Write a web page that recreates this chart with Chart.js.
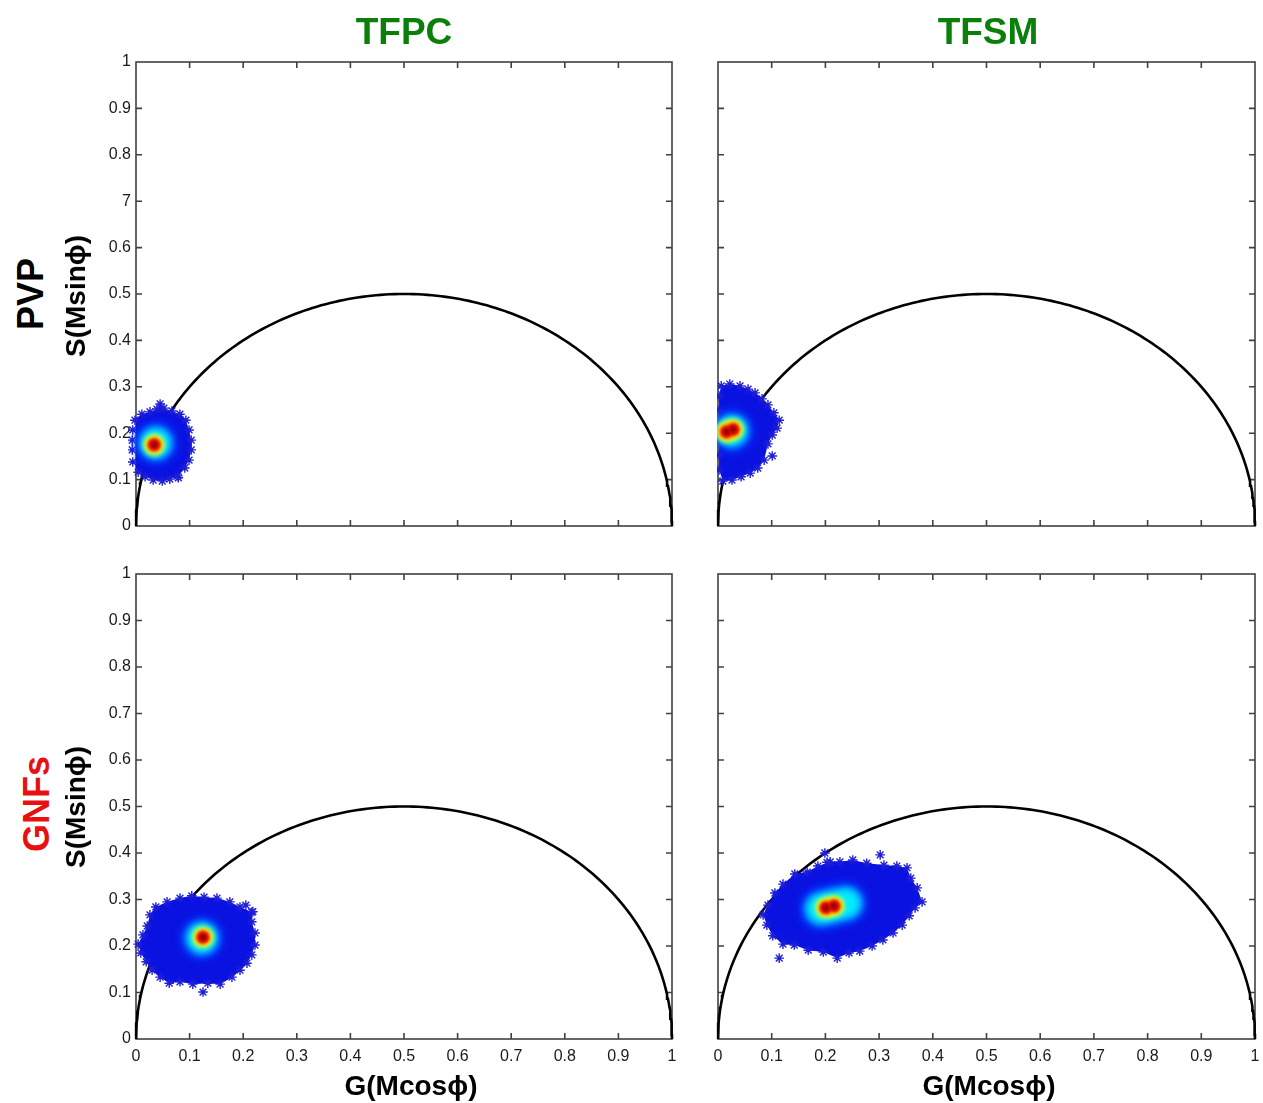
<!DOCTYPE html>
<html>
<head>
<meta charset="utf-8">
<script src="https://cdn.jsdelivr.net/npm/chart.js@4.4.0/dist/chart.umd.min.js"></script>
<style>
  body { margin: 0; background: #fff; }
  #page { position: relative; width: 1263px; height: 1103px; overflow: hidden; font-family: "Liberation Sans", Arial, sans-serif; }
  canvas { position: absolute; }
  .lbl { position: absolute; font-weight: bold; line-height: 1; white-space: nowrap; transform: translate(-50%, -50%); }
  .rot { transform: translate(-50%, -50%) rotate(-90deg); }
</style>
</head>
<body>
<div id="page">
  <canvas id="tl"></canvas>
  <canvas id="tr"></canvas>
  <canvas id="bl"></canvas>
  <canvas id="br"></canvas>

  <div class="lbl" style="left:404px;top:31px;font-size:37px;color:#0a800a">TFPC</div>
  <div class="lbl" style="left:988px;top:31px;font-size:37px;color:#0a800a">TFSM</div>
  <div class="lbl rot" style="left:31px;top:294px;font-size:36px;color:#000">PVP</div>
  <div class="lbl rot" style="left:76px;top:296px;font-size:28px;color:#000">S(Msinϕ)</div>
  <div class="lbl rot" style="left:37px;top:804px;font-size:36px;color:#e81010">GNFs</div>
  <div class="lbl rot" style="left:76px;top:807px;font-size:28px;color:#000">S(Msinϕ)</div>
  <div class="lbl" style="left:411px;top:1086px;font-size:28px;color:#000">G(Mcosϕ)</div>
  <div class="lbl" style="left:989px;top:1086px;font-size:28px;color:#000">G(Mcosϕ)</div>
</div>

<script>
// Tick labels
const xTickLabels = ['0', '0.1', '0.2', '0.3', '0.4', '0.5', '0.6', '0.7', '0.8', '0.9', '1'];
const yTickLabels = ['0', '0.1', '0.2', '0.3', '0.4', '0.5', '0.6', '0.7', '0.8', '0.9', '1'];
const yTickLabelsTL = ['0', '0.1', '0.2', '0.3', '0.4', '0.5', '0.6', '7', '0.8', '0.9', '1']; // printed like this

// Phasor points, [G, S]: outer stars of each cloud (in order round it),
// lone stars outside it, the medium density zone and the density peak
// PVP / TFPC
const tlEdge = [
    [-0.002, 0.228], [0.011, 0.241], [0.026, 0.246], [0.039, 0.252], [0.045, 0.263], [0.052, 0.254],
    [0.067, 0.248], [0.082, 0.241], [0.093, 0.228], [0.099, 0.207], [0.103, 0.185], [0.103, 0.164],
    [0.099, 0.142], [0.091, 0.125], [0.078, 0.108], [0.063, 0.101], [0.049, 0.097], [0.032, 0.099],
    [0.017, 0.106], [0.004, 0.116], [-0.006, 0.138], [-0.007, 0.164], [-0.007, 0.185], [-0.006, 0.207]
];
const tlOut = [[0.079, 0.104]];
const tlMid = [[0.037, 0.179]];
const tlPeak = [[0.034, 0.175]];

// PVP / TFSM
const trEdge = [
    [0.006, 0.302], [0.022, 0.306], [0.041, 0.302], [0.056, 0.295], [0.069, 0.287], [0.082, 0.274],
    [0.093, 0.261], [0.104, 0.244], [0.114, 0.228], [0.110, 0.211], [0.101, 0.196], [0.093, 0.177],
    [0.086, 0.142], [0.074, 0.125], [0.060, 0.114], [0.043, 0.106], [0.026, 0.099],
    [0.009, 0.097], [0.002, 0.121], [0.002, 0.153], [0.002, 0.185], [0.002, 0.218], [0.002, 0.250],
    [0.002, 0.280]
];
const trOut = [[0.101, 0.151]];
const trMid = [[0.026, 0.205]];
const trPeak = [[0.016, 0.203], [0.028, 0.208]];

// GNFs / TFPC
const blEdge = [
    [0.026, 0.267], [0.037, 0.284], [0.058, 0.295], [0.082, 0.303], [0.104, 0.308], [0.127, 0.305],
    [0.151, 0.303], [0.175, 0.295], [0.194, 0.284], [0.216, 0.273], [0.216, 0.252],
    [0.222, 0.228], [0.222, 0.202], [0.216, 0.181], [0.207, 0.163], [0.194, 0.148], [0.179, 0.133],
    [0.157, 0.118], [0.134, 0.120], [0.106, 0.118], [0.082, 0.123], [0.062, 0.120],
    [0.045, 0.133], [0.030, 0.148], [0.019, 0.166], [0.009, 0.185], [0.004, 0.204], [0.013, 0.224],
    [0.021, 0.243]
];
const blOut = [[0.125, 0.101], [0.205, 0.288], [0.218, 0.274]];
const blMid = [[0.123, 0.217]];
const blPeak = [[0.125, 0.219]];

// GNFs / TFSM
const brEdge = [
    [0.084, 0.267], [0.093, 0.288], [0.106, 0.314], [0.121, 0.333], [0.143, 0.355], [0.166, 0.359],
    [0.186, 0.372], [0.209, 0.381], [0.227, 0.381], [0.251, 0.385], [0.277, 0.378],
    [0.309, 0.374], [0.333, 0.372], [0.352, 0.368], [0.359, 0.346], [0.371, 0.325],
    [0.380, 0.295], [0.367, 0.282], [0.356, 0.265], [0.343, 0.245], [0.326, 0.228], [0.307, 0.213],
    [0.287, 0.200], [0.264, 0.189], [0.244, 0.185], [0.222, 0.174], [0.196, 0.187], [0.168, 0.191],
    [0.142, 0.202], [0.121, 0.204], [0.102, 0.222], [0.091, 0.245]
];
const brOut = [[0.199, 0.400], [0.203, 0.380], [0.302, 0.396], [0.114, 0.174]];
const brMid = [[0.192, 0.280], [0.214, 0.286], [0.238, 0.292]];
const brPeak = [[0.201, 0.282], [0.216, 0.286]];

// universal semicircle: centre (0.5, 0), radius 0.5
const semicircle = [];
for (let i = 0; i <= 180; i++) {
    const t = Math.PI * i / 180;
    semicircle.push({ x: 0.5 + 0.5 * Math.cos(t), y: 0.5 * Math.sin(t) });
}

// density colour layers (jet-like)
const midLayers = [
    { c: 'rgb(0,60,255)', r: 21, blur: 4 },
    { c: 'rgb(0,150,255)', r: 17, blur: 3 },
    { c: 'rgb(0,235,255)', r: 13.5, blur: 3 }
];
const peakLayers = [
    { c: 'rgb(140,255,120)', r: 11, blur: 2.5 },
    { c: 'rgb(255,235,0)', r: 9, blur: 2 },
    { c: 'rgb(255,120,0)', r: 7.5, blur: 1.5 },
    { c: 'rgb(225,15,0)', r: 6, blur: 1.2 },
    { c: 'rgb(150,0,0)', r: 3, blur: 1 }
];

const FONT = '"Liberation Sans", Arial, sans-serif';
const Y_W = 50, X_H = 40, PAD = 12;

// box with inward ticks on every side, drawn under the data
const framePlugin = {
    id: 'frame',
    beforeDatasetsDraw(chart) {
        const { ctx, chartArea: a, scales: { x, y } } = chart;
        ctx.save();
        ctx.strokeStyle = '#404040';
        ctx.lineWidth = 1.6;
        ctx.strokeRect(a.left, a.top, a.width, a.height);
        ctx.beginPath();
        x.ticks.forEach((t, i) => {
            if (i === 0 || i === x.ticks.length - 1) return;
            const px = x.getPixelForValue(t.value);
            ctx.moveTo(px, a.bottom); ctx.lineTo(px, a.bottom - 6);
            ctx.moveTo(px, a.top); ctx.lineTo(px, a.top + 6);
        });
        y.ticks.forEach((t, i) => {
            if (i === 0 || i === y.ticks.length - 1) return;
            const py = y.getPixelForValue(t.value);
            ctx.moveTo(a.left, py); ctx.lineTo(a.left + 6, py);
            ctx.moveTo(a.right, py); ctx.lineTo(a.right - 6, py);
        });
        ctx.stroke();
        ctx.restore();
    }
};

// soft edges for the density layers
const blurPlugin = {
    id: 'blur',
    beforeDatasetDraw(chart, args) {
        const b = chart.data.datasets[args.index].blur;
        chart.ctx.save();
        if (b) chart.ctx.filter = 'blur(' + b + 'px)';
    },
    afterDatasetDraw(chart) {
        chart.ctx.restore();
    }
};

function pts(arr) {
    return arr.map(p => ({ x: p[0], y: p[1] }));
}

function makePanel(id, box, cl, o) {
    const cv = document.getElementById(id);
    cv.width = Y_W + (box.r - box.l) + 2 * PAD;
    cv.height = 2 * PAD + (box.b - box.t) + X_H;

    const clip = { left: o.clipLeft, top: 30, right: 30, bottom: 30 };
    const ds = [];
    ds.push({ data: semicircle, showLine: true, borderColor: '#000', borderWidth: 2.6, pointRadius: 0, clip: 4 });
    // filled cloud inside the outer stars
    ds.push({ data: pts(cl.edge), showLine: true, fill: 'shape', borderWidth: 0, borderColor: 'rgba(0,0,0,0)',
              backgroundColor: 'rgb(10,18,225)', pointRadius: 0, clip: clip });
    ds.push({ data: pts(cl.edge.concat(cl.out)), pointStyle: 'star', pointRadius: 4.8,
              pointBorderColor: 'rgb(30,30,215)', pointBorderWidth: 1.4, clip: clip });
    midLayers.forEach(l => ds.push({ data: pts(cl.mid), pointRadius: l.r, pointBackgroundColor: l.c, pointBorderWidth: 0, blur: l.blur, clip: clip }));
    peakLayers.forEach(l => ds.push({ data: pts(cl.peak), pointRadius: l.r, pointBackgroundColor: l.c, pointBorderWidth: 0, blur: l.blur, clip: clip }));
    ds.forEach((d, i) => { d.order = ds.length - i; });

    const chart = new Chart(cv, {
        type: 'scatter',
        data: { datasets: ds },
        options: {
            responsive: false,
            maintainAspectRatio: false,
            animation: false,
            events: [],
            layout: { padding: { left: 0, top: PAD, right: PAD, bottom: 0 } },
            plugins: { legend: { display: false }, tooltip: { enabled: false }, colors: { enabled: false } },
            scales: {
                x: {
                    type: 'linear', min: 0, max: 1,
                    grid: { display: false, drawTicks: false },
                    border: { display: false },
                    ticks: {
                        display: o.showX, stepSize: 0.1, autoSkip: false, maxRotation: 0, padding: 8,
                        color: '#1a1a1a', font: { family: FONT, size: 16 },
                        callback: (v, i) => xTickLabels[i]
                    },
                    afterFit: s => { s.height = X_H; }
                },
                y: {
                    type: 'linear', min: 0, max: 1,
                    grid: { display: false, drawTicks: false },
                    border: { display: false },
                    ticks: {
                        display: o.showY, stepSize: 0.1, autoSkip: false, padding: 5,
                        color: '#1a1a1a', font: { family: FONT, size: 16 },
                        callback: (v, i) => o.yLabels[i]
                    },
                    afterFit: s => { s.width = Y_W; }
                }
            }
        },
        plugins: [framePlugin, blurPlugin]
    });

    // fit the plot area to the wanted box, then place the canvas
    let a = chart.chartArea;
    const w = cv.width + (box.r - box.l) - (a.right - a.left);
    const h = cv.height + (box.b - box.t) - (a.bottom - a.top);
    chart.resize(w, h);
    a = chart.chartArea;
    cv.style.left = (box.l - a.left) + 'px';
    cv.style.top = (box.t - a.top) + 'px';
}

makePanel('tl', { l: 136, t: 62, r: 672, b: 526 },
    { edge: tlEdge, out: tlOut, mid: tlMid, peak: tlPeak },
    { showX: false, showY: true, yLabels: yTickLabelsTL, clipLeft: 8 });
makePanel('tr', { l: 718, t: 62, r: 1255, b: 526 },
    { edge: trEdge, out: trOut, mid: trMid, peak: trPeak },
    { showX: false, showY: false, yLabels: yTickLabels, clipLeft: 1 });
makePanel('bl', { l: 136, t: 574, r: 672, b: 1039 },
    { edge: blEdge, out: blOut, mid: blMid, peak: blPeak },
    { showX: true, showY: true, yLabels: yTickLabels, clipLeft: 8 });
makePanel('br', { l: 718, t: 574, r: 1255, b: 1039 },
    { edge: brEdge, out: brOut, mid: brMid, peak: brPeak },
    { showX: true, showY: false, yLabels: yTickLabels, clipLeft: 8 });
</script>
</body>
</html>
